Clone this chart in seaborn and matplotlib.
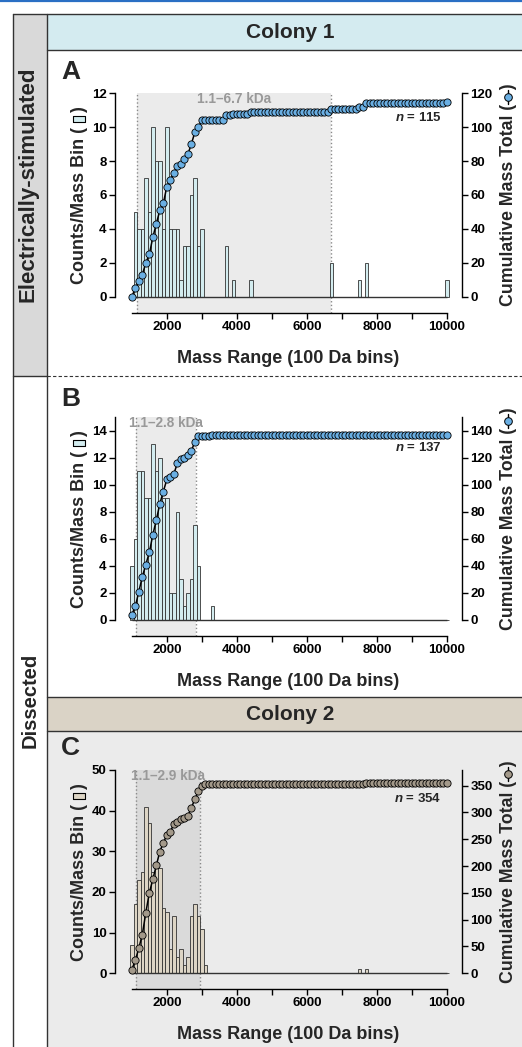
import numpy as np
import pandas as pd
import matplotlib
matplotlib.use("Agg")
import matplotlib.pyplot as plt
import seaborn as sns
from matplotlib.lines import Line2D
from matplotlib.patches import Rectangle
from matplotlib.transforms import blended_transform_factory

# 📌 Datos: centro del bin (Da) y cuentas por bin de 100 Da (solo bins con picos)
centros_a = [1100, 1200, 1300, 1400, 1500, 1600, 1700, 1800, 1900, 2000,
             2100, 2200, 2300, 2400, 2500, 2600, 2700, 2800, 2900, 3000,
             3700, 3900, 4400, 6700, 7500, 7700, 10000]
conteos_a = [5, 4, 4, 7, 5, 10, 8, 8, 4, 10, 4, 4, 4, 1, 3, 3, 6, 7, 3, 4,
             3, 1, 1, 2, 1, 2, 1]

centros_b = [1000, 1100, 1200, 1300, 1400, 1500, 1600, 1700, 1800, 1900,
             2000, 2100, 2200, 2300, 2400, 2500, 2600, 2700, 2800, 2900, 3300]
conteos_b = [4, 6, 11, 11, 9, 9, 13, 11, 12, 9, 9, 2, 2, 8, 3, 1, 2, 3, 7, 4, 1]

centros_c = [1000, 1100, 1200, 1300, 1400, 1500, 1600, 1700, 1800, 1900, 2000,
             2100, 2200, 2300, 2400, 2500, 2600, 2700, 2800, 2900, 3000, 3100,
             7500, 7700]
conteos_c = [7, 17, 23, 25, 41, 37, 25, 26, 26, 16, 15, 6, 14, 4, 6, 2, 4, 14,
             17, 14, 11, 2, 1, 1]

rango_a = [1150, 6680]
rango_b = [1110, 2840]
rango_c = [1120, 2950]
textos_rango = ["1.1–6.7 kDa", "1.1–2.8 kDa", "1.1–2.9 kDa"]
n_textos = ["115", "137", "354"]

yticks_a = [0, 2, 4, 6, 8, 10, 12]
yticks_b = [0, 2, 4, 6, 8, 10, 12, 14]
yticks_c = [0, 10, 20, 30, 40, 50]
y2ticks_a = [0, 20, 40, 60, 80, 100, 120]
y2ticks_b = [0, 20, 40, 60, 80, 100, 120, 140]
y2ticks_c = [0, 50, 100, 150, 200, 250, 300, 350]
xticks = [2000, 3000, 4000, 5000, 6000, 7000, 8000, 9000, 10000]
xtick_labels = ["2000", "", "4000", "", "6000", "", "8000", "", "10000"]

# eje de bins (cada 100 Da) para la curva acumulada
masas = np.arange(1000, 10001, 100)

sns.set_style("ticks")
plt.rcParams["font.family"] = ["Liberation Sans", "DejaVu Sans"]
plt.rcParams["font.weight"] = "bold"
plt.rcParams["axes.labelweight"] = "bold"
plt.rcParams["mathtext.fontset"] = "custom"
plt.rcParams["mathtext.it"] = "Liberation Sans:italic:bold"
plt.rcParams["mathtext.rm"] = "Liberation Sans:bold"

W, H = 522, 1047
def fx(x):
    return x / W
def fy(y):
    return 1 - y / H

fig = plt.figure(figsize=(W / 100, H / 100), dpi=100)
linea = "#333333"

# 📌 Fondos y marcos de la figura
def rect(x0, y0, x1, y1, color):
    fig.add_artist(Rectangle((fx(x0), fy(y1)), (x1 - x0) / W, (y1 - y0) / H,
                             transform=fig.transFigure, facecolor=color,
                             edgecolor="none", zorder=-2))
def seg(x0, y0, x1, y1, color=linea, lw=1.0, ls="-"):
    fig.add_artist(Line2D([fx(x0), fx(x1)], [fy(y0), fy(y1)], transform=fig.transFigure,
                          color=color, lw=lw, ls=ls, zorder=5))

rect(13, 14, 47, 376, "#d9d9d9")
rect(47, 14, 522, 50, "#d4ebf0")
rect(47, 697, 522, 731, "#dad3c6")
rect(47, 731, 522, 1047, "#ebebeb")
seg(0, 1, 522, 1, color="#2a6fc4", lw=1.6)
seg(13, 14, 522, 14)
seg(13, 14, 13, 1047)
seg(47, 14, 47, 1047)
seg(47, 50, 522, 50)
seg(13, 376, 47, 376)
seg(47, 376, 522, 376, ls=(0, (3, 2)), lw=0.8)
seg(47, 697, 522, 697)
seg(47, 731, 522, 731)

fig.text(fx(290), fy(32), "Colony 1", ha="center", va="center", fontsize=15, weight="bold")
fig.text(fx(290), fy(714), "Colony 2", ha="center", va="center", fontsize=15, weight="bold")
fig.text(fx(28), fy(184), "Electrically-stimulated", ha="center", va="center",
         rotation=90, fontsize=16, weight="bold")
fig.text(fx(30), fy(700), "Dissected", ha="center", va="center",
         rotation=90, fontsize=14.5, weight="bold")
for letra, yy in [("A", 72), ("B", 399), ("C", 748)]:
    fig.text(fx(61), fy(yy), letra, ha="left", va="center", fontsize=19, weight="bold")

# 📌 Paneles
paneles = [
    dict(centros=centros_a, conteos=conteos_a, rango=rango_a, texto=textos_rango[0],
         n=n_textos[0], yticks=yticks_a, y2ticks=y2ticks_a, ytop=12, y2top=120,
         top=93.3, cero=296.7, spine=313, n_y=0.892,
         barra="#d3ecef", punto="#6aafe3", sombra="#ebebeb"),
    dict(centros=centros_b, conteos=conteos_b, rango=rango_b, texto=textos_rango[1],
         n=n_textos[1], yticks=yticks_b, y2ticks=y2ticks_b, ytop=15, y2top=150,
         top=417.3, cero=620, spine=636, n_y=0.862,
         barra="#d3ecef", punto="#6aafe3", sombra="#ebebeb"),
    dict(centros=centros_c, conteos=conteos_c, rango=rango_c, texto=textos_rango[2],
         n=n_textos[2], yticks=yticks_c, y2ticks=y2ticks_c, ytop=50, y2top=379,
         top=770, cero=973.3, spine=989, n_y=0.872,
         barra="#ddd5c5", punto="#a3998a", sombra="#dadada"),
]

etiquetas = []
for p in paneles:
    alto = p["spine"] - p["top"]
    ax = fig.add_axes([fx(115), fy(p["spine"]), (462 - 115) / W, alto / H])
    ax.set_facecolor("none")
    frac_baja = (p["spine"] - p["cero"]) / (p["cero"] - p["top"])

    ax.axvspan(p["rango"][0], p["rango"][1], color=p["sombra"], lw=0, zorder=0)
    for xv in p["rango"]:
        ax.axvline(xv, ls=":", color="#8a8a8a", lw=1.0, zorder=1)

    df = pd.DataFrame({"masa": p["centros"], "cuenta": p["conteos"]})
    sns.histplot(data=df, x="masa", weights="cuenta", binwidth=100, binrange=(950, 10050),
                 ax=ax, color=p["barra"], edgecolor=linea, linewidth=0.6, alpha=1, zorder=2)
    ax.hlines(0, 1000, 10000, color=linea, lw=1.0, zorder=3)

    ax.set_xlim(520, 10430)
    ax.set_ylim(-frac_baja * p["ytop"], p["ytop"])
    ax.set_yticks(p["yticks"])
    ax.set_xticks(xticks)
    ax.set_xticklabels(xtick_labels)
    for s in ["top", "right"]:
        ax.spines[s].set_visible(False)
    ax.spines["left"].set_bounds(0, p["ytop"])
    ax.spines["bottom"].set_bounds(1000, 10000)
    for s in ["left", "bottom"]:
        ax.spines[s].set_linewidth(1.0)
        ax.spines[s].set_color("black")
    ax.tick_params(direction="out", length=4, width=1, labelsize=9.5, pad=2, colors="black")

    cuentas = np.zeros(len(masas))
    for c, v in zip(p["centros"], p["conteos"]):
        cuentas[np.searchsorted(masas, c)] = v
    acumulado = np.cumsum(cuentas)

    ax2 = ax.twinx()
    sns.lineplot(x=masas, y=acumulado, ax=ax2, color="black", lw=1.1, marker="o",
                 markersize=5.2, markerfacecolor=p["punto"], markeredgecolor="black",
                 markeredgewidth=0.6, zorder=4)
    ax2.set_ylim(-frac_baja * p["y2top"], p["y2top"])
    ax2.set_yticks(p["y2ticks"])
    for s in ["top", "left", "bottom"]:
        ax2.spines[s].set_visible(False)
    ax2.spines["right"].set_bounds(0, p["y2top"])
    ax2.spines["right"].set_linewidth(1.0)
    ax2.spines["right"].set_color("black")
    ax2.tick_params(direction="out", length=4, width=1, labelsize=9.5, pad=2, colors="black")

    trans = blended_transform_factory(ax.transData, ax.transAxes)
    ax.text(sum(p["rango"]) / 2, 1 - 6 / alto, p["texto"], transform=trans,
            ha="center", va="center", color="#999999", fontsize=9.8, weight="bold", zorder=5)
    ax2.text(9850, p["n_y"], r"$\mathit{n}$ = " + p["n"],
             transform=blended_transform_factory(ax2.transData, ax2.transAxes),
             ha="right", va="center", fontsize=9.5, weight="bold")

    ax.set_xlabel("Mass Range (100 Da bins)", fontsize=13, weight="bold")
    ax.xaxis.set_label_coords(0.5, -37 / alto)
    ax.set_ylabel("Counts/Mass Bin (   )", fontsize=13, weight="bold")
    ax.yaxis.set_label_coords(-27 / 347, (p["spine"] - (p["top"] + p["cero"]) / 2) / alto)
    ax2.set_ylabel("Cumulative Mass Total (   )", fontsize=12.8, weight="bold", rotation=90)
    ax2.yaxis.set_label_coords(1 + 38 / 347, (p["spine"] - (p["top"] + p["cero"]) / 2) / alto)
    etiquetas.append((ax.yaxis.label, ax2.yaxis.label, p))

# 📌 Símbolos dentro de las etiquetas de los ejes
fig.canvas.draw()
r = fig.canvas.get_renderer()

def ancho(s, prop):
    t = fig.text(0, 0, s, fontproperties=prop)
    w = t.get_window_extent(r).width
    t.remove()
    return w

def hueco(etq, previo):
    prop = etq.get_fontproperties()
    bb = etq.get_window_extent(r)
    total = ancho(etq.get_text(), prop)
    pre = ancho(previo, prop)
    fin = ancho(")", prop)
    centro = pre + (total - pre - fin) / 2
    x = (bb.x0 + bb.x1) / 2
    y = bb.y0 + centro * bb.height / total
    return fig.transFigure.inverted().transform((x, y))

caja = [(-1, -0.42), (1, -0.42), (1, 0.42), (-1, 0.42), (-1, -0.42)]
for e1, e2, p in etiquetas:
    x1, y1 = hueco(e1, "Counts/Mass Bin (")
    fig.add_artist(Line2D([x1], [y1], transform=fig.transFigure, marker=caja, ms=9,
                          mfc=p["barra"], mec="black", mew=0.8, ls="none", zorder=6))
    x2, y2 = hueco(e2, "Cumulative Mass Total (")
    d = 7 / H
    fig.add_artist(Line2D([x2, x2], [y2 - d, y2 + d], transform=fig.transFigure,
                          color="black", lw=1.0, zorder=6))
    fig.add_artist(Line2D([x2], [y2], transform=fig.transFigure, marker="o", ms=5.5,
                          mfc=p["punto"], mec="black", mew=0.7, ls="none", zorder=7))

fig.savefig("out.png", dpi=100)
